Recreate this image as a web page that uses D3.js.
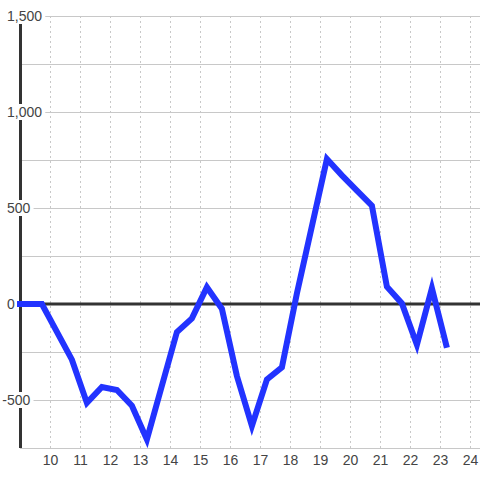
<!DOCTYPE html>
<html>
<head>
<meta charset="utf-8">
<script src="https://cdn.jsdelivr.net/npm/d3@7"></script>
<style>
  body { margin: 0; background: #fff; }
  svg { display: block; font-family: 'Liberation Sans', Arial, sans-serif; }
</style>
</head>
<body>
<svg width="480" height="480"></svg>
<script>
//chart size
const W = 480, H = 480;

//x positions of the line points and their values
var xs = [8.9, 9.73, 10.73, 11.23, 11.73, 12.23, 12.73, 13.23, 14.23, 14.73,
          15.23, 15.73, 16.23, 16.73, 17.23, 17.73, 18.23, 19.23, 19.73, 20.23,
          20.73, 21.23, 21.73, 22.23, 22.73, 23.23];
var ys = [0, 0, -290, -515, -432, -448, -530, -705, -146, -75,
          87, -25, -375, -635, -393, -330, 55, 755, 670, 590,
          512, 90, 3, -212, 82, -228];
//tick values
var xTicks = [10, 11, 12, 13, 14, 15, 16, 17, 18, 19, 20, 21, 22, 23, 24];
var yGrid = [-750, -500, -250, 0, 250, 500, 750, 1000, 1250, 1500];
var yLabels = [-500, 0, 500, 1000, 1500];

var svg = d3.select('svg');

var x = d3.scaleLinear().domain([9, 24.333]).range([20, 480]);
var y = d3.scaleLinear().domain([-750, 1500]).range([448, 16]);

//vertical dotted grid
svg.append('g')
   .selectAll('line')
   .data(xTicks)
   .enter()
   .append('line')
     .attr('x1', function(d) { return x(d) + 0.5; })
     .attr('x2', function(d) { return x(d) + 0.5; })
     .attr('y1', y(1500))
     .attr('y2', y(-750))
     .attr('stroke', '#c8c8c8')
     .attr('stroke-dasharray', '2,3');

//horizontal grid
svg.append('g')
   .selectAll('line')
   .data(yGrid)
   .enter()
   .append('line')
     .attr('x1', 20)
     .attr('x2', W)
     .attr('y1', function(d) { return y(d) + 0.5; })
     .attr('y2', function(d) { return y(d) + 0.5; })
     .attr('stroke', '#c8c8c8');

//zero line
svg.append('line')
   .attr('x1', 20).attr('x2', W)
   .attr('y1', y(0)).attr('y2', y(0))
   .attr('stroke', '#333').attr('stroke-width', 3);

//y axis line
svg.append('line')
   .attr('x1', 20.5).attr('x2', 20.5)
   .attr('y1', y(1500)).attr('y2', y(-750))
   .attr('stroke', '#333').attr('stroke-width', 3);

//y labels with white background
var fmt = d3.format(',');
var yl = svg.append('g')
   .selectAll('g')
   .data(yLabels)
   .enter()
   .append('g');

yl.append('rect').attr('fill', '#fff');
yl.append('text')
  .attr('x', 7)
  .attr('y', function(d) { return y(d); })
  .attr('dy', '0.35em')
  .attr('font-size', 14)
  .attr('fill', '#444')
  .text(function(d) { return fmt(d).replace('−', '-'); });

//hanging minus sign, then size the background
yl.each(function(d) {
    var g = d3.select(this);
    var t = g.select('text');
    if (d < 0) t.attr('dx', -4.7);
    var b = t.node().getBBox();
    g.select('rect')
     .attr('x', b.x - 2)
     .attr('y', y(d) - 8)
     .attr('width', b.width + 5)
     .attr('height', 16);
});

//x tick labels
svg.append('g')
   .attr('transform', 'translate(0,' + y(-750) + ')')
   .call(d3.axisBottom(x).tickValues(xTicks).tickSize(0).tickPadding(7))
   .call(function(g) { g.select('.domain').remove(); })
   .selectAll('text')
     .attr('font-size', 14)
     .attr('font-family', "'Liberation Sans', Arial, sans-serif")
     .attr('fill', '#444');

//data line
var line = d3.line()
    .x(function(d, i) { return x(xs[i]); })
    .y(function(d) { return y(d); });

svg.append('path')
   .attr('d', line(ys))
   .attr('fill', 'none')
   .attr('stroke', '#2233ff')
   .attr('stroke-width', 6)
   .attr('stroke-linejoin', 'miter');
</script>
</body>
</html>
